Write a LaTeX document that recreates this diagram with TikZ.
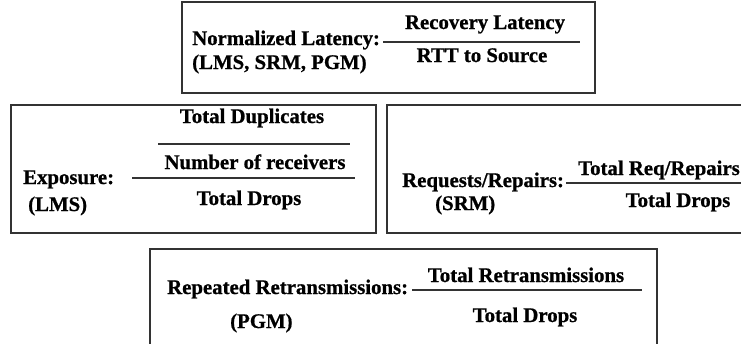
\documentclass[tikz,border=0pt]{standalone}
\usepackage{fontspec}
\setmainfont[BoldFeatures={FakeBold=0.8}]{Liberation Serif}

\begin{document}
\begin{tikzpicture}[x=1pt, y=-1pt,
    every node/.style={inner sep=0pt, font=\fontsize{20.8}{25}\selectfont\bfseries},
    box/.style={draw=black!80, line width=1.8pt},
    bar/.style={draw=black!80, line width=1.4pt}]
    \useasboundingbox (0,0) rectangle (741,343);
    \clip (0,0) rectangle (741,343);

    % normalized latency
    \draw[box] (182,2) rectangle (595,93);
    \node[anchor=base west] (nlname) at (192,45) {Normalized Latency:};
    \node[anchor=base west] (nlproto) at (192,69) {(LMS, SRM, PGM)};
    \draw[bar] (383,42) -- (580,42);
    \node[anchor=base] (nlnum) at (485,29) {Recovery Latency};
    \node[anchor=base] (nlden) at (482,62) {RTT to Source};

    % exposure
    \draw[box] (11,105) rectangle (376,233);
    \node[anchor=base west] (exname) at (23,184) {Exposure:};
    \node[anchor=base west] (exproto) at (28,211) {(LMS)};
    \node[anchor=base] (exnum) at (252,123) {Total Duplicates};
    \draw[bar] (158,144) -- (350,144);
    \node[anchor=base] (exmid) at (255,169) {Number of receivers};
    \draw[bar] (132,178) -- (355,178);
    \node[anchor=base] (exden) at (249,205) {Total Drops};

    % requests/repairs
    \draw[box] (387,105) rectangle (760,233);
    \node[anchor=base west] (rrname) at (402,187) {Requests/Repairs:};
    \node[anchor=base west] (rrproto) at (435,210) {(SRM)};
    \node[anchor=base] (rrnum) at (659,175) {Total Req/Repairs};
    \draw[bar] (566,183) -- (745,183);
    \node[anchor=base] (rrden) at (678,207) {Total Drops};

    % repeated retransmissions
    \draw[box] (150,249) rectangle (657,360);
    \node[anchor=base west] (rtname) at (167,294) {Repeated Retransmissions:};
    \node[anchor=base west] (rtproto) at (230,328) {(PGM)};
    \node[anchor=base] (rtnum) at (526,282) {Total Retransmissions};
    \draw[bar] (412,290) -- (642,290);
    \node[anchor=base] (rtden) at (525,322) {Total Drops};
\end{tikzpicture}
\end{document}
